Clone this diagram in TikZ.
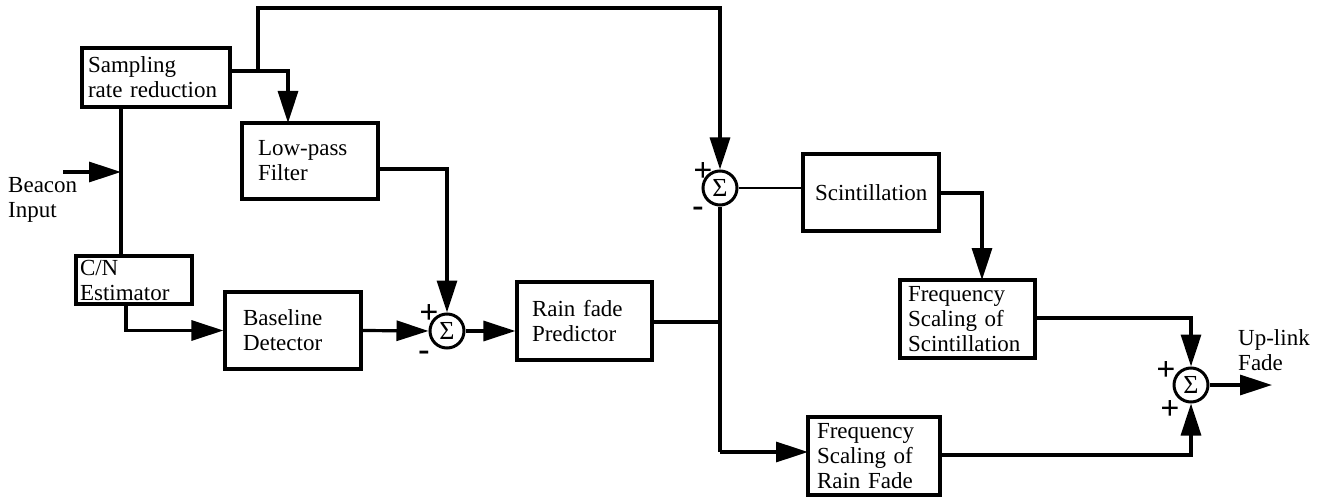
\documentclass[tikz,border=0pt]{standalone}
\usepackage{fontspec}
\setmainfont{Liberation Serif}
\usetikzlibrary{arrows.meta}
\begin{document}
\begin{tikzpicture}[x=1pt,y=-1pt,
  box/.style={draw,line width=3.2pt,inner sep=0pt,align=left,font=\fontsize{23}{25}\selectfont},
  sumnode/.style={draw,circle,line width=3pt,inner sep=0pt,minimum size=34pt,font=\fontsize{26}{26}\selectfont},
  wire/.style={line width=3.2pt},
  thinwire/.style={line width=2pt},
  arr/.style={wire,-{Triangle[length=32pt,width=20pt]}},
  sign/.style={font=\fontsize{24}{24}\selectfont\bfseries,inner sep=0pt,scale=1.4},
  lbl/.style={align=left,inner sep=0pt,font=\fontsize{23}{25}\selectfont}]
\useasboundingbox (0,0) rectangle (1326,500);

% blocks
\node[box,minimum width=148pt,minimum height=59pt,text width=136pt] (samp) at (156,77.5) {Sampling\\rate reduction};
\node[box,minimum width=136pt,minimum height=76pt,text width=104pt] (lpf) at (310,161) {Low-pass\\Filter};
\node[box,minimum width=116pt,minimum height=48pt,text width=108pt] (cn) at (134,280) {C/N\\Estimator};
\node[box,minimum width=136pt,minimum height=77pt,text width=100pt] (base) at (293,330.5) {Baseline\\Detector};
\node[box,minimum width=135pt,minimum height=78pt,text width=105pt] (rain) at (584.5,321) {Rain fade\\Predictor};
\node[box,minimum width=136pt,minimum height=77pt,text width=112pt] (scint) at (871,192.5) {Scintillation};
\node[box,minimum width=135pt,minimum height=78pt,text width=119pt] (fss) at (967.5,319) {Frequency\\Scaling of\\Scintillation};
\node[box,minimum width=132pt,minimum height=78pt,text width=114pt] (fsr) at (874,456) {Frequency\\Scaling of\\Rain Fade};

% summing junctions
\node[sumnode] (s1) at (447,331) {Σ};
\node[sumnode] (s2) at (720,188) {Σ};
\node[sumnode] (s3) at (1191,385) {Σ};

% signs
\node[sign] (p1) at (429,314) {+};
\node[sign] (m1) at (424,356) {-};
\node[sign] (p2) at (703,172) {+};
\node[sign] (m2) at (698,212) {-};
\node[sign] (p3) at (1166,371) {+};
\node[sign] (p4) at (1170,410) {+};

% labels
\node[lbl,anchor=west] (bin) at (8,200) {Beacon\\Input};
\node[lbl,anchor=west] (upl) at (1238,350) {Up-link\\Fade};

% helper coordinates
\coordinate (bstart) at (63,172);
\coordinate (jb) at (121,172);
\coordinate (j1) at (258,71);
\coordinate (top) at (258,8);
\coordinate (lpfin) at (288,123);
\coordinate (lpfout) at (378,169);
\coordinate (cnout) at (126,304);
\coordinate (rainj) at (720,322);
\coordinate (rainout) at (652,322);
\coordinate (fsrin) at (808,452);
\coordinate (scintout) at (939,193);
\coordinate (fssin) at (982,280);
\coordinate (fssout) at (1035,318);
\coordinate (fsrout) at (940,455);
\coordinate (outend) at (1272,385);

% connectors
\draw[arr] (bstart) -- (jb);
\draw[wire] (samp.south -| jb) -- (cn.north -| jb);
\draw[wire] (samp.east |- j1) -- (j1);
\draw[arr] (j1) -| (lpfin);
\draw[arr] (j1) -- (top) -| (s2.north);
\draw[arr] (lpfout) -| (s1.north);
\draw[arr] (cnout) |- (base.west);
\draw[arr] (base.east) -- (s1.west);
\draw[arr] (s1.east) -- (rain.west |- s1.east);
\draw[wire] (rainout) -- (rainj);
\draw[wire] (s2.south) -- (s2.south |- fsrin);
\draw[arr] (s2.south |- fsrin) -- (fsrin);
\draw[thinwire] (s2.east) -- (scint.west |- s2.east);
\draw[arr] (scintout) -| (fssin);
\draw[arr] (fssout) -| (s3.north);
\draw[arr] (fsrout) -| (s3.south);
\draw[arr] (s3.east) -- (outend);
\end{tikzpicture}
\end{document}
